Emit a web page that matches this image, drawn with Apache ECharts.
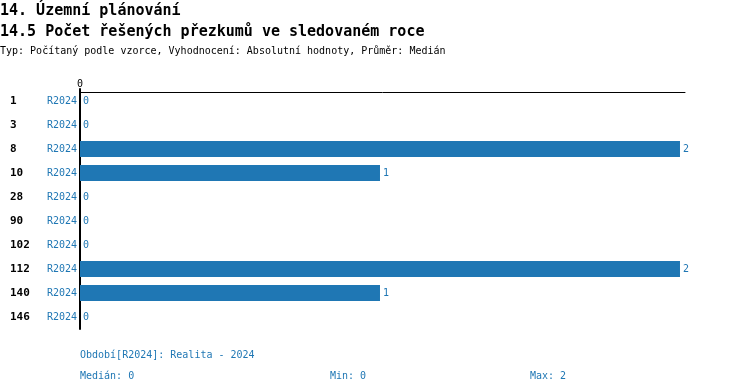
<!DOCTYPE html>
<html><head><meta charset="utf-8">
<script src="https://cdn.jsdelivr.net/npm/echarts@6/dist/echarts.min.js"></script>
<style>html,body{margin:0;padding:0;background:#fff}#c{width:750px;height:392px}</style>
</head><body><div id="c"></div>
<script>
const categories = ["1","3","8","10","28","90","102","112","140","146"];
const period = "R2024";
const values = [0,0,2,1,0,0,0,2,1,0];
const xTicks = [0];
const titleMain = "14. Územní plánování";
const titleSub = "14.5 Počet řešených přezkumů ve sledovaném roce";
const titleType = "Typ: Počítaný podle vzorce, Vyhodnocení: Absolutní hodnoty, Průměr: Medián";
const footPeriod = "Období[R2024]: Realita - 2024";
const footStats = ["Medián: 0", "Min: 0", "Max: 2"];

const MONO = '"DejaVu Sans Mono", monospace';
const BLUE = '#1f77b4';
const chart = echarts.init(document.getElementById('c'), null, {renderer:'canvas'});
chart.setOption({
  animation: false,
  backgroundColor: '#fff',
  title: [
    {text: titleMain, left: 0, top: 3, padding: 0, textStyle:{fontFamily: MONO, fontSize: 15, fontWeight:'bold', color:'#000', lineHeight: 16}},
    {text: titleSub, left: 0, top: 24, padding: 0, textStyle:{fontFamily: MONO, fontSize: 15, fontWeight:'bold', color:'#000', lineHeight: 16}},
    {text: titleType, left: 0, top: 46, padding: 0, textStyle:{fontFamily: MONO, fontSize: 10, fontWeight:'normal', color:'#000'}},
    {text: footPeriod, left: 80, top: 350, padding: 0, textStyle:{fontFamily: MONO, fontSize: 10, fontWeight:'normal', color:BLUE}},
    {text: footStats[0], left: 80, top: 371, padding: 0, textStyle:{fontFamily: MONO, fontSize: 10, fontWeight:'normal', color:BLUE}},
    {text: footStats[1], left: 330, top: 371, padding: 0, textStyle:{fontFamily: MONO, fontSize: 10, fontWeight:'normal', color:BLUE}},
    {text: footStats[2], left: 530, top: 371, padding: 0, textStyle:{fontFamily: MONO, fontSize: 10, fontWeight:'normal', color:BLUE}}
  ],
  grid: {left: 80, top: 89, width: 605, height: 240, containLabel: false},
  xAxis: {
    type: 'value', position: 'top', min: 0, max: 2.0167, offset: -3,
    axisLine: {show: true, lineStyle: {color:'#000', width: 1}},
    axisTick: {show: false},
    splitLine: {show: false},
    axisLabel: {customValues: xTicks, formatter: v => String(v), fontFamily: MONO, fontSize: 10, color:'#000', margin: 3}
  },
  yAxis: {
    type: 'category', inverse: true, data: categories,
    axisLine: {show: true, onZero: false, lineStyle: {color:'#000', width: 2}},
    axisTick: {show: false},
    axisLabel: {
      margin: 3,
      formatter: v => '{a|' + v + '}{b|' + period + '}',
      rich: {
        a: {width: 37, align: 'left', fontFamily: MONO, fontSize: 11, fontWeight: 'bold', color: '#000'},
        b: {width: 30, align: 'right', fontFamily: MONO, fontSize: 10, color: BLUE}
      }
    }
  },
  series: [{
    type: 'bar', data: values, barWidth: 16,
    itemStyle: {color: BLUE},
    label: {show: true, position: 'right', distance: 3, fontFamily: MONO, fontSize: 10, color: BLUE}
  }]
});
</script></body></html>
